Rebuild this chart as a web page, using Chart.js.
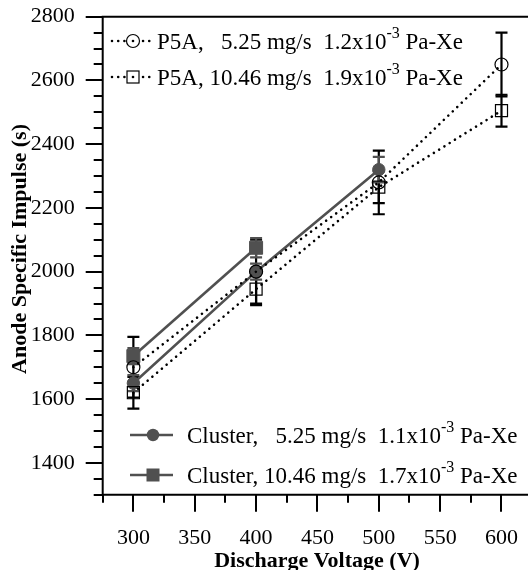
<!DOCTYPE html>
<html><head><meta charset="utf-8">
<script src="https://cdn.jsdelivr.net/npm/chart.js@4/dist/chart.umd.min.js"></script>
<style>html,body{margin:0;padding:0;background:#fff}#wrap{width:528px;height:570px;position:relative}</style>
</head><body><div id="wrap"><canvas id="c" width="528" height="570"></canvas></div>
<script>
// ---- data ----
const p5aVolts = [300, 400, 500, 600];
const p5aLowIsp = [1700, 2000, 2280, 2650];
const p5aLowErr = [95, 100, 100, 100];
const p5aHighIsp = [1620, 1945, 2265, 2505];
const p5aHighErr = [50, 50, 50, 50];
const clusterLowVolts = [300, 400, 500];
const clusterLowIsp = [1650, 2000, 2320];
const clusterLowErr = [25, 25, 40];
const clusterHighVolts = [300, 400];
const clusterHighIsp = [1735, 2075];
const clusterHighErr = [25, 30];
const xTickValues = [300, 350, 400, 450, 500, 550, 600];
const yTickValues = [1400, 1600, 1800, 2000, 2200, 2400, 2600, 2800];
const legendP5ALow = ['P5A,   5.25 mg/s  1.2x10', '-3', ' Pa-Xe'];
const legendP5AHigh = ['P5A, 10.46 mg/s  1.9x10', '-3', ' Pa-Xe'];
const legendClusterLow = ['Cluster,   5.25 mg/s  1.1x10', '-3', ' Pa-Xe'];
const legendClusterHigh = ['Cluster, 10.46 mg/s  1.7x10', '-3', ' Pa-Xe'];
const xTitle = 'Discharge Voltage (V)';
const yTitle = 'Anode Specific Impulse (s)';

const GRAY = '#505050';
const pts = (xs, ys) => xs.map((x, i) => ({x, y: ys[i]}));

const datasets = [
  {label: 'P5A low', data: pts(p5aVolts, p5aLowIsp), err: p5aLowErr, errColor: '#000',
   borderColor: '#000', borderWidth: 2.6, borderDash: [0.01, 6.2], borderCapStyle: 'round',
   pointStyle: 'circle', pointRadius: 6.5, backgroundColor: 'rgba(255,255,255,0)', pointBorderColor: '#000', pointBorderWidth: 1.2, order: 1},
  {label: 'P5A high', data: pts(p5aVolts, p5aHighIsp), err: p5aHighErr, errColor: '#000',
   borderColor: '#000', borderWidth: 2.6, borderDash: [0.01, 6.2], borderCapStyle: 'round',
   pointStyle: 'rect', pointRadius: 8.5, backgroundColor: 'rgba(255,255,255,0)', pointBorderColor: '#000', pointBorderWidth: 1.2, order: 2},
  {label: 'Cluster low', data: pts(clusterLowVolts, clusterLowIsp), err: clusterLowErr, errColor: GRAY,
   borderColor: GRAY, borderWidth: 2.6, pointStyle: 'circle', pointRadius: 6.2,
   backgroundColor: GRAY, pointBorderColor: GRAY, pointBorderWidth: 1, order: 3},
  {label: 'Cluster high', data: pts(clusterHighVolts, clusterHighIsp), err: clusterHighErr, errColor: GRAY,
   borderColor: GRAY, borderWidth: 2.6, pointStyle: 'rect', pointRadius: 9.2,
   backgroundColor: GRAY, pointBorderColor: GRAY, pointBorderWidth: 1, order: 4}
];

const SERIF = '"Liberation Serif", "Times New Roman", serif';

const errorBars = {
  id: 'errorBars',
  beforeDatasetsDraw(chart) {
    const {ctx, scales: {x, y}} = chart;
    ctx.save();
    chart.data.datasets.forEach(ds => {
      ctx.strokeStyle = ds.errColor; ctx.lineWidth = 2.2;
      ds.data.forEach((p, i) => {
        const e = ds.err[i]; const px = x.getPixelForValue(p.x);
        const top = y.getPixelForValue(p.y + e), bot = y.getPixelForValue(p.y - e);
        ctx.beginPath();
        ctx.moveTo(px, top); ctx.lineTo(px, bot);
        ctx.moveTo(px - 6, top); ctx.lineTo(px + 6, top);
        ctx.moveTo(px - 6, bot); ctx.lineTo(px + 6, bot);
        ctx.stroke();
      });
    });
    ctx.restore();
  }
};

function legendRow(ctx, lx0, lx1, mx, yc, kind, parts) {
  ctx.save();
  if (kind.dotted) {
    ctx.strokeStyle = '#000'; ctx.lineWidth = 2.6; ctx.lineCap = 'round'; ctx.setLineDash([0.01, 6.2]);
  } else {
    ctx.strokeStyle = GRAY; ctx.lineWidth = 2.6;
  }
  ctx.beginPath(); ctx.moveTo(lx0, yc); ctx.lineTo(lx1, yc); ctx.stroke();
  ctx.setLineDash([]);
  ctx.lineWidth = 1.2;
  if (kind.shape === 'circle') {
    ctx.beginPath(); ctx.arc(mx, yc, kind.r, 0, Math.PI * 2);
    if (kind.fill) { ctx.fillStyle = GRAY; ctx.fill(); }
    else { ctx.fillStyle = '#fff'; ctx.fill(); ctx.strokeStyle = '#000'; ctx.stroke();
      ctx.fillStyle='#000'; ctx.beginPath(); ctx.arc(mx, yc, 1.3, 0, Math.PI*2); ctx.fill(); }
  } else {
    const s = kind.r;
    if (kind.fill) { ctx.fillStyle = GRAY; ctx.fillRect(mx - s, yc - s, 2 * s, 2 * s); }
    else { ctx.fillStyle = '#fff'; ctx.fillRect(mx - s, yc - s, 2 * s, 2 * s); ctx.strokeStyle = '#000'; ctx.strokeRect(mx - s, yc - s, 2 * s, 2 * s);
      ctx.fillStyle='#000'; ctx.beginPath(); ctx.arc(mx, yc, 1.3, 0, Math.PI*2); ctx.fill(); }
  }
  ctx.fillStyle = '#000';
  ctx.textBaseline = 'alphabetic';
  let tx = kind.tx; const base = yc + 8;
  ctx.font = '23px ' + SERIF;
  ctx.fillText(parts[0], tx, base); tx += ctx.measureText(parts[0]).width;
  ctx.font = '16px ' + SERIF;
  ctx.fillText(parts[1], tx, base - 11); tx += ctx.measureText(parts[1]).width;
  ctx.font = '23px ' + SERIF;
  ctx.fillText(parts[2], tx, base);
  ctx.restore();
}

const frame = {
  id: 'frame',
  afterDraw(chart) {
    const {ctx, chartArea: a, scales: {x, y}} = chart;
    ctx.save();
    ctx.strokeStyle = '#000'; ctx.lineWidth = 2;
    ctx.beginPath();
    ctx.moveTo(a.left, a.bottom); ctx.lineTo(a.left, a.top); ctx.lineTo(chart.width, a.top);
    ctx.moveTo(a.left - 1, a.bottom); ctx.lineTo(chart.width, a.bottom);
    ctx.stroke();
    ctx.lineWidth = 2;
    ctx.beginPath();
    for (let v = 1300; v <= 2800; v += 50) {
      const py = Math.round(y.getPixelForValue(v));
      const len = (v % 200 === 0) ? 17 : 9;
      ctx.moveTo(a.left - len, py); ctx.lineTo(a.left, py);
    }
    for (let v = 275; v <= 600; v += 25) {
      const px = Math.round(x.getPixelForValue(v));
      const len = (v % 50 === 0) ? 17 : 8;
      ctx.moveTo(px, a.bottom); ctx.lineTo(px, a.bottom + len);
    }
    ctx.stroke();
    // titles
    ctx.fillStyle = '#000';
    ctx.font = 'bold 22px ' + SERIF;
    ctx.textAlign = 'center'; ctx.textBaseline = 'middle';
    ctx.fillText(xTitle, 317, 561);
    ctx.save(); ctx.translate(20, 249); ctx.rotate(-Math.PI / 2); ctx.fillText(yTitle, 0, 0); ctx.restore();
    ctx.textAlign = 'left';
    legendRow(ctx, 112, 155, 133, 41, {dotted: true, shape: 'circle', r: 6.5, fill: false, tx: 157}, legendP5ALow);
    legendRow(ctx, 112, 155, 133, 77, {dotted: true, shape: 'rect', r: 6, fill: false, tx: 157}, legendP5AHigh);
    legendRow(ctx, 130, 173, 153, 435, {dotted: false, shape: 'circle', r: 6.2, fill: true, tx: 187}, legendClusterLow);
    legendRow(ctx, 130, 173, 153, 475, {dotted: false, shape: 'rect', r: 6.5, fill: true, tx: 187}, legendClusterHigh);
    ctx.restore();
  }
};

new Chart(document.getElementById('c'), {
  type: 'line',
  data: {datasets},
  options: {
    responsive: false, animation: false,
    layout: {autoPadding: false, padding: {top: 16.7, right: 0, left: 0, bottom: 0}},
    plugins: {legend: {display: false}, tooltip: {enabled: false}},
    scales: {
      x: {type: 'linear', min: 275, max: 621.6,
        grid: {display: false, drawTicks: false}, border: {display: false},
        afterBuildTicks: s => { s.ticks = xTickValues.map(v => ({value: v})); },
        afterFit: s => { s.height = 75.3; s.paddingLeft = 0; s.paddingRight = 0; },
        ticks: {padding: 30, color: '#000', font: {family: SERIF, size: 22}, maxRotation: 0, callback: v => String(v)}},
      y: {type: 'linear', min: 1300, max: 2800,
        grid: {display: false, drawTicks: false}, border: {display: false},
        afterBuildTicks: s => { s.ticks = yTickValues.map(v => ({value: v})); },
        afterFit: s => { s.width = 102.7; s.paddingTop = 0; s.paddingBottom = 0; },
        ticks: {padding: 28, color: '#000', font: {family: SERIF, size: 22}, callback: v => String(v)}}
    }
  },
  plugins: [errorBars, frame]
});
</script>
</body></html>
